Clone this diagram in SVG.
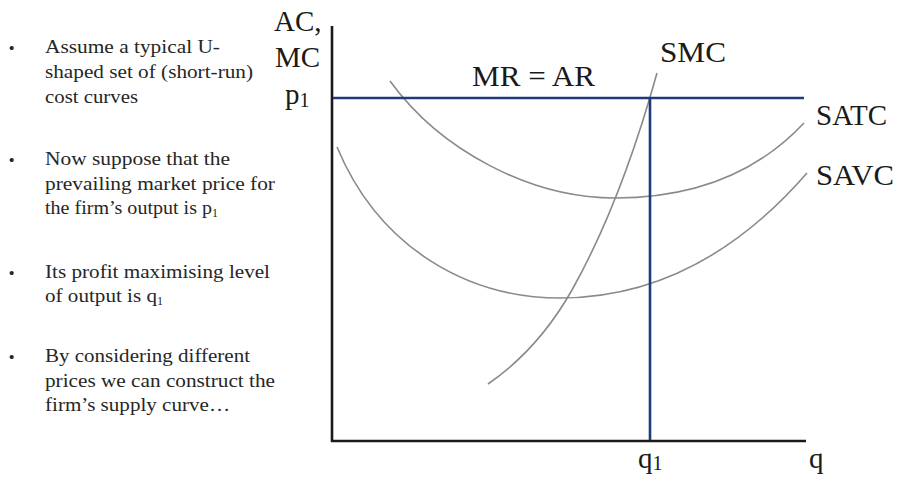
<svg xmlns="http://www.w3.org/2000/svg" width="897" height="480" viewBox="0 0 897 480">
<style>
.b{font-family:"Liberation Serif","Times New Roman",serif;font-size:19.5px;fill:#262626}
.d{font-family:"Liberation Sans",Arial,sans-serif;font-size:15px;fill:#262626}
.l{font-family:"Liberation Serif","Times New Roman",serif;fill:#1a1a1a}
.axis{stroke:#1a1a1a;stroke-width:2.6;fill:none}
.mr{stroke:#1f3b7c;stroke-width:2.6;fill:none}
.curve{stroke:#8a8a8a;stroke-width:1.6;fill:none}
</style>
<rect width="897" height="480" fill="#ffffff"/>
<g id="bullets">
<text class="d" x="9" y="53">•</text>
<text class="b" x="45" y="53" textLength="175" lengthAdjust="spacingAndGlyphs">Assume a typical  U-</text>
<text class="b" x="45" y="78" textLength="208" lengthAdjust="spacingAndGlyphs">shaped  set of (short-run)</text>
<text class="b" x="45" y="103" textLength="93" lengthAdjust="spacingAndGlyphs">cost curves</text>
<text class="d" x="9" y="165">•</text>
<text class="b" x="45" y="165" textLength="185" lengthAdjust="spacingAndGlyphs">Now suppose that the</text>
<text class="b" x="45" y="190" textLength="230" lengthAdjust="spacingAndGlyphs">prevailing market price for</text>
<text class="b" x="45" y="214"><tspan textLength="167" lengthAdjust="spacingAndGlyphs">the firm’s output is p</tspan><tspan font-size="12" dy="3">1</tspan></text>
<text class="d" x="9" y="278">•</text>
<text class="b" x="45" y="278" textLength="225" lengthAdjust="spacingAndGlyphs">Its profit maximising  level</text>
<text class="b" x="45" y="302"><tspan textLength="112" lengthAdjust="spacingAndGlyphs">of output is q</tspan><tspan font-size="12" dy="3">1</tspan></text>
<text class="d" x="9" y="362">•</text>
<text class="b" x="45" y="362" textLength="205" lengthAdjust="spacingAndGlyphs">By considering  different</text>
<text class="b" x="45" y="387" textLength="230" lengthAdjust="spacingAndGlyphs">prices we can construct the</text>
<text class="b" x="45" y="411" textLength="185" lengthAdjust="spacingAndGlyphs">firm’s supply curve…</text>
</g>
<g id="axes">
<line class="axis" x1="332" y1="26" x2="332" y2="442"/>
<line class="axis" x1="331" y1="441" x2="806" y2="441"/>
</g>
<g id="connectors">
<path id="SATC-curve" class="curve" d="M390,81 C440,150 530,198 615,198 C700,198 760,170 804,123"/>
<path id="SAVC-curve" class="curve" d="M337,147 C380,250 470,298 560,298 C660,298 740,250 807,173"/>
<path id="SMC-curve" class="curve" d="M488,384 C530,355 555,320 572,290 C600,240 630,170 657,73"/>
<line id="MR-line" class="mr" x1="333" y1="98" x2="804" y2="98"/>
<line id="q1-line" class="mr" x1="650" y1="98" x2="650" y2="440"/>
</g>
<g id="labels">
<text class="l" x="274" y="31" font-size="29">AC,</text>
<text class="l" x="275" y="67" font-size="29">MC</text>
<text class="l" x="285" y="104" font-size="29">p<tspan font-size="20" dy="3">1</tspan></text>
<text class="l" x="472" y="86" font-size="29" textLength="123" lengthAdjust="spacingAndGlyphs">MR = AR</text>
<text class="l" x="660" y="62" font-size="29" textLength="66" lengthAdjust="spacingAndGlyphs">SMC</text>
<text class="l" x="816" y="125" font-size="29" textLength="71" lengthAdjust="spacingAndGlyphs">SATC</text>
<text class="l" x="816" y="185" font-size="29" textLength="78" lengthAdjust="spacingAndGlyphs">SAVC</text>
<text class="l" x="638" y="468" font-size="29">q<tspan font-size="20" dy="2">1</tspan></text>
<text class="l" x="809" y="468" font-size="29">q</text>
</g>
</svg>
